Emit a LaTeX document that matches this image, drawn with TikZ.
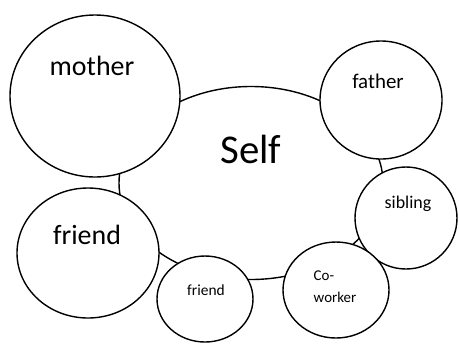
\documentclass[tikz,border=0pt]{standalone}
\usepackage{fontspec}
\setmainfont{Carlito}
\usepackage{tikz}
\usetikzlibrary{positioning, shapes.geometric}
\newcommand{\fs}[1]{\fontsize{#1}{#1}\selectfont}

\begin{document}
\begin{tikzpicture}[x=1bp, y=-1bp,
    bubble/.style={draw, ellipse, line width=1.4bp, fill=white, inner sep=0pt}]
  \useasboundingbox (0,0) rectangle (459,347);

  % self in the middle
  \node[bubble, minimum width=264bp, minimum height=193bp] (self) at (251,183) {};
  \node[font=\fs{41}] (selft) at (251,149) {Self};

  % people round it
  \node[bubble, minimum width=170bp, minimum height=162bp] (mother) at (95,96) {};
  \node[bubble, minimum width=122bp, minimum height=118bp] (father) at (381,100) {};
  \node[bubble, minimum width=102bp, minimum height=102bp] (sibling) at (406,218) {};
  \node[bubble, minimum width=106bp, minimum height=96bp] (cowork) at (336,290) {};
  \node[bubble, minimum width=96bp, minimum height=86bp] (friendb) at (205,299) {};
  \node[bubble, minimum width=142bp, minimum height=130bp] (frienda) at (88,253) {};

  % labels
  \node[font=\fs{28}] (mothert) at (92,66) {mother};
  \node[font=\fs{21}] (fathert) at (378,81) {father};
  \node[font=\fs{18}] (siblingt) at (408,204) {sibling};
  \node[font=\fontsize{15}{22}\selectfont, align=left, inner sep=0pt]
        (coworkt) at (335,287) {Co-\\worker};
  \node[font=\fs{15.5}] (friendbt) at (206,290) {friend};
  \node[font=\fs{28}] (friendat) at (87,235) {friend};
\end{tikzpicture}
\end{document}
